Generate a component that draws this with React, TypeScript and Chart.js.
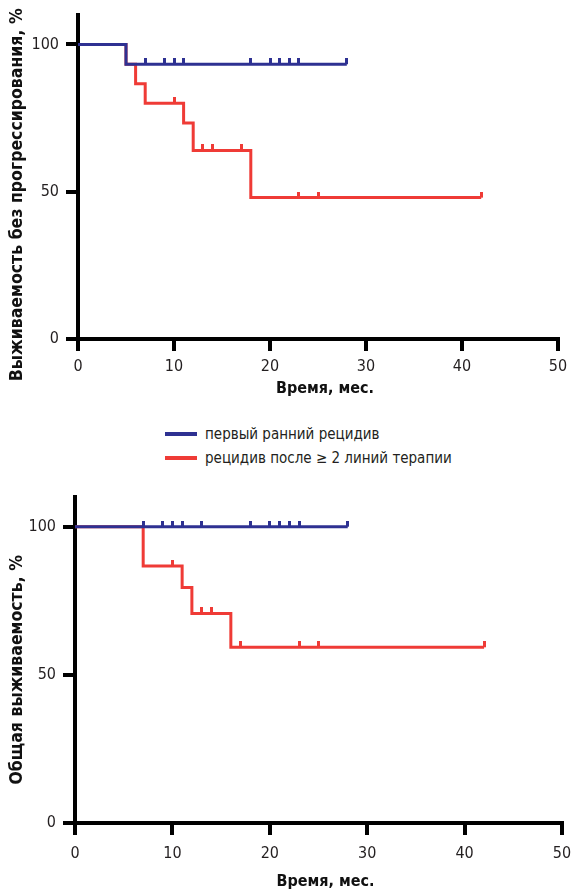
import React, { useEffect, useRef } from "react";
import { Chart, registerables } from "chart.js";

Chart.register(...registerables);

// ---- Data ----
const xTicks = [0, 10, 20, 30, 40, 50];
const yTicks = [0, 50, 100];

const seriesNames = ["первый ранний рецидив", "рецидив после ≥ 2 линий терапии"];
const seriesColors = ["#2e3192", "#ef3b36"];

// Progression-free survival (top)
const pfsBlueTimes = [0, 5, 28];
const pfsBlueValues = [100, 93.3, 93.3];
const pfsBlueCensor = [7, 9, 10, 11, 18, 20, 21, 22, 23, 28];
const pfsRedTimes = [0, 5, 6, 7, 11, 12, 18, 42];
const pfsRedValues = [100, 93.3, 86.7, 80, 73.3, 64, 48, 48];
const pfsRedCensor = [10, 13, 14, 17, 23, 25, 42];

// Overall survival (bottom)
const osBlueTimes = [0, 28];
const osBlueValues = [100, 100];
const osBlueCensor = [7, 9, 10, 11, 13, 18, 20, 21, 22, 23, 28];
const osRedTimes = [0, 7, 11, 12, 16, 42];
const osRedValues = [100, 86.7, 79.5, 70.7, 59.3, 59.3];
const osRedCensor = [10, 13, 14, 17, 23, 25, 42];

const xTitle = "Время, мес.";

const FONT = '"DejaVu Sans Condensed", "Liberation Sans Narrow", "Noto Sans", sans-serif';

function toPoints(times: number[], values: number[]) {
  return times.map((t, i) => ({ x: t, y: values[i] }));
}
function censorPoints(times: number[], values: number[], censor: number[]) {
  return censor.map((c) => {
    let v = values[0];
    for (let i = 0; i < times.length; i++) if (times[i] <= c) v = values[i];
    return { x: c, y: v };
  });
}
function tickMark(color: string) {
  const c = document.createElement("canvas");
  c.width = 3;
  c.height = 12;
  const ctx = c.getContext("2d")!;
  ctx.fillStyle = color;
  ctx.fillRect(0, 0, 3, 6);
  return c;
}

const titlePlugin = {
  id: "kmTitles",
  afterDraw(chart: any, _args: any, opts: any) {
    const { ctx } = chart;
    const x = chart.scales.x;
    const y = chart.scales.y;
    ctx.save();
    ctx.fillStyle = "#111";
    ctx.textAlign = "center";
    ctx.textBaseline = "middle";
    ctx.font = `bold ${opts.ySize}px ${FONT}`;
    ctx.translate(opts.yX, y.getPixelForValue(50) + opts.yShift);
    ctx.rotate(-Math.PI / 2);
    ctx.fillText(opts.yText, 0, 0);
    ctx.restore();
    ctx.save();
    ctx.fillStyle = "#111";
    ctx.textAlign = "center";
    ctx.textBaseline = "middle";
    ctx.font = `bold ${opts.xSize}px ${FONT}`;
    ctx.fillText(opts.xText, x.getPixelForValue(25) + 7, opts.xY);
    ctx.restore();
  },
};

type Cfg = {
  title: string;
  blueT: number[]; blueV: number[]; blueC: number[];
  redT: number[]; redV: number[]; redC: number[];
  height: number;
  areaLeft: number; areaTop: number; areaBottom: number; padRight: number;
  yShift: number; xTitleY: number; labelPad: number;
};

function KMChart(props: Cfg) {
  const ref = useRef<HTMLCanvasElement>(null);
  useEffect(() => {
    const p = props;
    const lineDs = (t: number[], v: number[], color: string) => ({
      type: "line",
      data: toPoints(t, v),
      borderColor: color,
      backgroundColor: color,
      borderWidth: 3,
      stepped: "before",
      pointRadius: 0,
      fill: false,
      clip: false,
    });
    const censorDs = (t: number[], v: number[], c: number[], color: string) => ({
      type: "line",
      data: censorPoints(t, v, c),
      showLine: false,
      pointStyle: tickMark(color),
      pointRadius: 3,
      borderColor: color,
      backgroundColor: color,
      clip: false,
    });
    const chart = new Chart(ref.current!, {
      type: "line",
      data: {
        datasets: [
          censorDs(p.blueT, p.blueV, p.blueC, seriesColors[0]),
          lineDs(p.blueT, p.blueV, seriesColors[0]),
          censorDs(p.redT, p.redV, p.redC, seriesColors[1]),
          lineDs(p.redT, p.redV, seriesColors[1]),
        ] as any,
      },
      plugins: [titlePlugin],
      options: {
        animation: false,
        responsive: false,
        events: [],
        layout: { padding: { left: 2, top: p.areaTop, right: p.padRight, bottom: 0 } },
        plugins: {
          legend: { display: false },
          tooltip: { enabled: false },
          kmTitles: { yText: p.title, ySize: 17.5, yX: 17, yShift: p.yShift, xText: xTitle, xSize: 16, xY: p.xTitleY },
        },
        scales: {
          x: {
            type: "linear",
            min: 0,
            max: 50,
            afterBuildTicks: (axis: any) => {
              axis.ticks = xTicks.map((v) => ({ value: v }));
            },
            afterFit: (s: any) => {
              s.height = p.height - p.areaBottom;
              s.paddingRight = 0;
              s.paddingLeft = 0;
            },
            ticks: { color: "#231f20", font: { family: FONT, size: 16 }, padding: p.labelPad, maxRotation: 0 },
            grid: { drawOnChartArea: false, drawTicks: true, tickLength: 12, lineWidth: 4, color: "#000" },
            border: { display: true, width: 4, color: "#000" },
          },
          y: {
            type: "linear",
            min: 0,
            max: 110,
            afterBuildTicks: (axis: any) => {
              axis.ticks = yTicks.map((v) => ({ value: v }));
            },
            afterFit: (s: any) => {
              s.width = p.areaLeft - 2;
              s.paddingTop = 0;
              s.paddingBottom = 0;
            },
            ticks: { color: "#231f20", font: { family: FONT, size: 16 }, padding: 7 },
            grid: { drawOnChartArea: false, drawTicks: true, tickLength: 12, lineWidth: 4, color: "#000" },
            border: { display: true, width: 4, color: "#000" },
          },
        },
      } as any,
    });
    return () => chart.destroy();
  }, []);
  return <canvas ref={ref} width={571} height={props.height} style={{ display: "block", width: 571, height: props.height }} />;
}

function Legend() {
  return (
    <div style={{ position: "absolute", left: 0, top: 420, width: 571, height: 50, fontFamily: FONT, fontSize: 15, color: "#231f20" }}>
      {seriesNames.map((name, i) => (
        <div key={i} style={{ position: "absolute", left: 165, top: 2 + i * 24, height: 24, display: "flex", alignItems: "center", whiteSpace: "nowrap" }}>
          <span style={{ display: "inline-block", width: 32, height: 4, background: seriesColors[i], marginRight: 8 }} />
          <span>{name}</span>
        </div>
      ))}
    </div>
  );
}

export default function App() {
  return (
    <div style={{ position: "absolute", left: 0, top: 0, width: 571, height: 892, background: "#fff", overflow: "hidden" }}>
      <div style={{ position: "absolute", left: 0, top: 0 }}>
        <KMChart
          title="Выживаемость без прогрессирования, %"
          blueT={pfsBlueTimes} blueV={pfsBlueValues} blueC={pfsBlueCensor}
          redT={pfsRedTimes} redV={pfsRedValues} redC={pfsRedCensor}
          height={400} areaLeft={78} areaTop={15} areaBottom={339} padRight={13}
          yShift={3} xTitleY={389} labelPad={6}
        />
      </div>
      <Legend />
      <div style={{ position: "absolute", left: 0, top: 478 }}>
        <KMChart
          title="Общая выживаемость, %"
          blueT={osBlueTimes} blueV={osBlueValues} blueC={osBlueCensor}
          redT={osRedTimes} redV={osRedValues} redC={osRedCensor}
          height={414} areaLeft={75} areaTop={19} areaBottom={345} padRight={9}
          yShift={-5} xTitleY={404} labelPad={9}
        />
      </div>
    </div>
  );
}
